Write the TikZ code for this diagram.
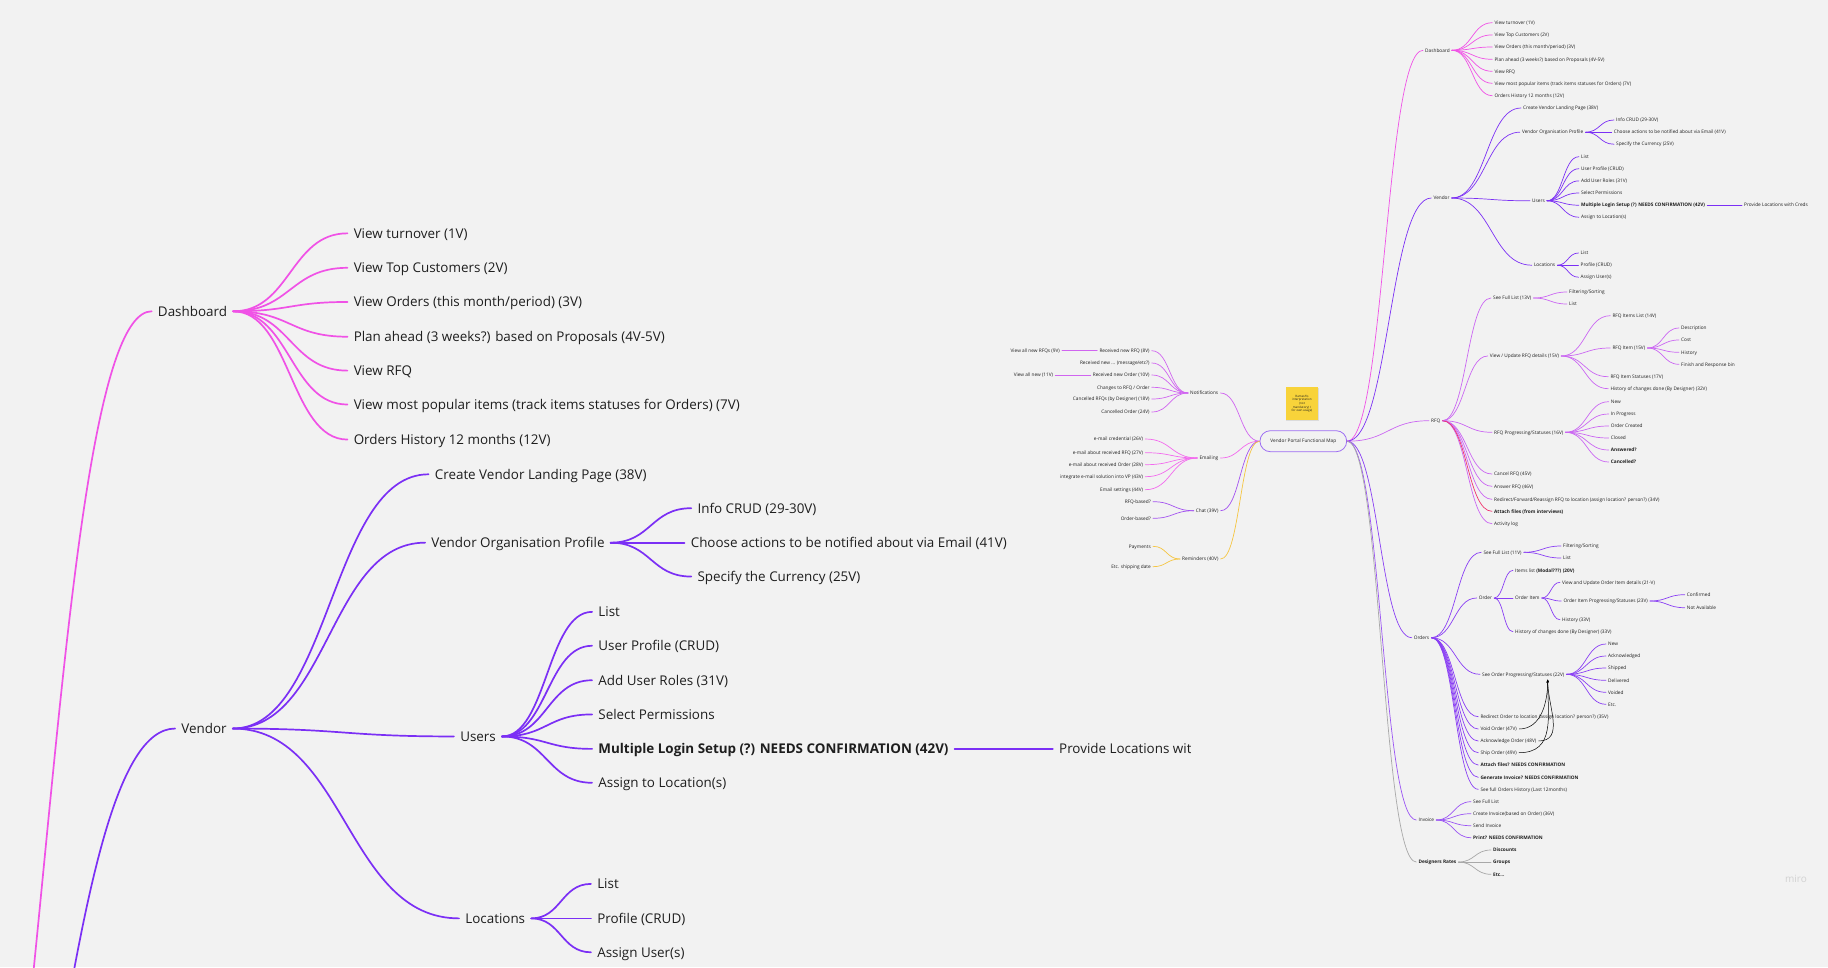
\documentclass[tikz,border=0pt]{standalone}
\usepackage{fontspec}
\setmainfont{Open Sans}
\usetikzlibrary{calc,arrows.meta,shadows}
\definecolor{bg}{HTML}{F2F2F2}
\definecolor{cDash}{HTML}{F052E6}
\definecolor{cVend}{HTML}{7B2FF5}
\definecolor{cRFQ}{HTML}{CB67F2}
\definecolor{cRed}{HTML}{F0366E}
\definecolor{cOrd}{HTML}{8A3FF4}
\definecolor{cInv}{HTML}{9B55F4}
\definecolor{cGray}{HTML}{A8A8A8}
\definecolor{cNot}{HTML}{D065F0}
\definecolor{cMail}{HTML}{F26AEE}
\definecolor{cChat}{HTML}{A352F0}
\definecolor{cRem}{HTML}{F5C542}
\definecolor{cCen}{HTML}{9C6CF2}
\definecolor{txt}{HTML}{1E1E1E}
\definecolor{note}{HTML}{F8D33A}
\definecolor{wm}{HTML}{D2D2D2}
\tikzset{
  mm/.style={to path={let \p1=(\tikztostart), \p2=(\tikztotarget), \p3=($(\p1)!.5!(\p2)$) in .. controls (\x3,\y1) and (\x3,\y2) .. (\tikztotarget)}},
  conn/.style={line width=0.7pt, line cap=round},
  txtnode/.style={font=\fontsize{4.75}{5.5}\selectfont, text=txt, inner xsep=2pt, inner ysep=0.6pt, text height=3.4pt, text depth=0pt},
  nr/.style={txtnode, anchor=west},
  nl/.style={txtnode, anchor=east},
  blk/.style={draw=black, line width=0.5pt, -{Stealth[length=3pt,width=2.4pt]}},
  pill/.style={minimum width=86.7pt, minimum height=21pt, anchor=center},
}
\newcommand\NR[4]{\node[nr] (#1) at ({#2-2},#3) {#4};}
\newcommand\NL[4]{\node[nl] (#1) at ({#2+2},#3) {#4};}
\newcommand\ER[3]{\draw[conn,#1] (#2.east) to[mm] (#3.west);}
\newcommand\EL[3]{\draw[conn,#1] (#2.west) to[mm] (#3.east);}
% centre node with text and sticky note
\newcommand\MapCenter[1]{%
\node[draw=cCen, line width=0.8pt, rounded corners=10.4pt, txtnode, pill] (#1C) at (1303.3,441.2) {Vendor Portal Functional Map};
\node[fill=note, minimum width=32.6pt, minimum height=32.7pt, inner sep=0pt, align=center, font=\fontsize{3}{3.7}\selectfont, text=txt, drop shadow={opacity=0.2,shadow xshift=0.4pt,shadow yshift=-0.8pt}] (#1note) at (1302,403.7) {Ramesh's\\interpretation\\(not\\mandatory) /\\for own usage)};
}
% invisible centre (only its anchors are used, it lies outside the view)
\newcommand\MapGhost[1]{\node[pill, inner sep=0pt] (#1C) at (1303.3,441.2) {};}
\newcommand\MapDash[1]{%
\NR{#1dash}{1425}{50.3}{Dashboard}
\NR{#1d1}{1494.3}{22.7}{View turnover (1V)}
\NR{#1d2}{1494.3}{34.9}{View Top Customers (2V)}
\NR{#1d3}{1494.3}{47}{View Orders (this month/period) (3V)}
\NR{#1d4}{1494.3}{59.3}{Plan ahead (3 weeks?) based on Proposals (4V-5V)}
\NR{#1d5}{1494.3}{71.3}{View RFQ}
\NR{#1d6}{1494.3}{83.3}{View most popular items (track items statuses for Orders) (7V)}
\NR{#1d7}{1494.3}{95.7}{Orders History 12 months (12V)}
\ER{cDash}{#1C}{#1dash}
\foreach \k in {1,...,7}{\ER{cDash}{#1dash}{#1d\k}}
}
\newcommand\MapVend[1]{%
\NR{#1ven}{1433.3}{198}{Vendor}
\NR{#1v1}{1523}{108}{Create Vendor Landing Page (38V)}
\NR{#1v2}{1521.8}{132.2}{Vendor Organisation Profile}
\NR{#1vp1}{1616}{120}{Info CRUD (29-30V)}
\NR{#1vp2}{1613.6}{132.2}{Choose actions to be notified about via Email (41V)}
\NR{#1vp3}{1616}{144.2}{Specify the Currency (25V)}
\NR{#1v3}{1532}{200.8}{Users}
\NR{#1u1}{1580.9}{156.7}{List}
\NR{#1u2}{1580.9}{168.7}{User Profile (CRUD)}
\NR{#1u3}{1580.9}{180.9}{Add User Roles (31V)}
\NR{#1u4}{1580.9}{193}{Select Permissions}
\NR{#1u5}{1580.9}{205.2}{\textbf{Multiple Login Setup (?) NEEDS CONFIRMATION (42V)}}
\NR{#1u6}{1580.9}{217.2}{Assign to Location(s)}
\NR{#1u5a}{1744}{205.2}{Provide Locations with Creds}
\NR{#1v4}{1533.8}{265.2}{Locations}
\NR{#1l1}{1580.5}{253}{List}
\NR{#1l2}{1580.5}{265.2}{Profile (CRUD)}
\NR{#1l3}{1580.5}{277.2}{Assign User(s)}
\ER{cVend}{#1C}{#1ven}
\foreach \k in {1,...,4}{\ER{cVend}{#1ven}{#1v\k}}
\foreach \k in {1,2,3}{\ER{cVend}{#1v2}{#1vp\k}}
\foreach \k in {1,...,6}{\ER{cVend}{#1v3}{#1u\k}}
\ER{cVend}{#1u5}{#1u5a}
\foreach \k in {1,2,3}{\ER{cVend}{#1v4}{#1l\k}}
}
\newcommand\MapRest[1]{%
% RFQ
\NR{#1rfq}{1431}{420.7}{RFQ}
\NR{#1r1}{1493}{298}{See Full List (13V)}
\NR{#1r1a}{1569}{292}{Filtering/Sorting}
\NR{#1r1b}{1569}{304}{List}
\NR{#1r2}{1489.7}{356}{View / Update RFQ details (15V)}
\NR{#1r2a}{1612.3}{315.7}{RFQ Items List (14V)}
\NR{#1r2b}{1612.3}{348}{RFQ Item (15V)}
\NR{#1r2b1}{1681}{328}{Description}
\NR{#1r2b2}{1681}{340}{Cost}
\NR{#1r2b3}{1681}{352.3}{History}
\NR{#1r2b4}{1681}{364.3}{Finish and Response bin}
\NR{#1r2c}{1610.3}{376.7}{RFQ Item Statuses (17V)}
\NR{#1r2d}{1610.3}{388.7}{History of changes done (By Designer) (32V)}
\NR{#1r3}{1494}{432.3}{RFQ Progressing/Statuses (16V)}
\NR{#1r3a}{1610.7}{401.7}{New}
\NR{#1r3b}{1610.7}{414}{In Progress}
\NR{#1r3c}{1610.7}{426}{Order Created}
\NR{#1r3d}{1610.7}{438}{Closed}
\NR{#1r3e}{1610.7}{450}{\textbf{Answered?}}
\NR{#1r3f}{1610.7}{462}{\textbf{Cancelled?}}
\NR{#1r4}{1494}{474}{Cancel RFQ (45V)}
\NR{#1r5}{1494}{486.3}{Answer RFQ (46V)}
\NR{#1r6}{1494}{499.3}{Redirect/Forward/Reassign RFQ to location (assign location? person?) (34V)}
\NR{#1r7}{1494}{511.3}{\textbf{Attach files (from interviews)}}
\NR{#1r8}{1494}{523.7}{Activity log}
\ER{cRFQ}{#1C}{#1rfq}
\foreach \k in {1,...,6,8}{\ER{cRFQ}{#1rfq}{#1r\k}}
\ER{cRed}{#1rfq}{#1r7}
\ER{cRFQ}{#1r1}{#1r1a}
\ER{cRFQ}{#1r1}{#1r1b}
\foreach \k in {a,b,c,d}{\ER{cRFQ}{#1r2}{#1r2\k}}
\foreach \k in {1,...,4}{\ER{cRFQ}{#1r2b}{#1r2b\k}}
\foreach \k in {a,b,c,d,e,f}{\ER{cRFQ}{#1r3}{#1r3\k}}
% Orders
\NR{#1ord}{1413.7}{637.7}{Orders}
\NR{#1o1}{1483.3}{552.3}{See Full List (11V)}
\NR{#1o1a}{1563}{546}{Filtering/Sorting}
\NR{#1o1b}{1563}{558}{List}
\NR{#1o2}{1478.7}{598}{Order}
\NR{#1o2a}{1515}{570.3}{Items list \textbf{(Modal???) (20V)}}
\NR{#1o2b}{1515}{598}{Order Item}
\NR{#1o2b1}{1562}{582.3}{View and Update Order Item details (21-V)}
\NR{#1o2b2}{1563.3}{601}{Order Item Progressing/Statuses (23V)}
\NR{#1o2b2a}{1686.7}{594.7}{Confirmed}
\NR{#1o2b2b}{1686.7}{607.7}{Not Available}
\NR{#1o2b3}{1562}{619.7}{History (33V)}
\NR{#1o2c}{1515}{631.7}{History of changes done (By Designer) (33V)}
\NR{#1o3}{1482}{674.3}{See Order Progressing/Statuses (22V)}
\NR{#1o3a}{1608}{644}{New}
\NR{#1o3b}{1608}{656}{Acknowledged}
\NR{#1o3c}{1608}{668}{Shipped}
\NR{#1o3d}{1608}{680.3}{Delivered}
\NR{#1o3e}{1608}{692.3}{Voided}
\NR{#1o3f}{1608}{704.3}{Etc.}
\NR{#1o4}{1480.3}{716.7}{Redirect Order to location (assign location? person?) (35V)}
\NR{#1o5}{1480.3}{729}{Void Order (47V)}
\NR{#1o6}{1480.3}{741}{Acknowledge Order (48V)}
\NR{#1o7}{1480.3}{752.7}{Ship Order (49V)}
\NR{#1o8}{1480.3}{765}{\textbf{Attach files? NEEDS CONFIRMATION}}
\NR{#1o9}{1480.3}{777.3}{\textbf{Generate Invoice? NEEDS CONFIRMATION}}
\NR{#1o10}{1480.3}{789.3}{See full Orders History (Last 12months)}
\coordinate (#1arr) at (1547.7,679.5);
\ER{cOrd}{#1C}{#1ord}
\foreach \k in {1,...,10}{\ER{cOrd}{#1ord}{#1o\k}}
\ER{cOrd}{#1o1}{#1o1a}
\ER{cOrd}{#1o1}{#1o1b}
\foreach \k in {a,b,c}{\ER{cOrd}{#1o2}{#1o2\k}}
\foreach \k in {1,2,3}{\ER{cOrd}{#1o2b}{#1o2b\k}}
\ER{cOrd}{#1o2b2}{#1o2b2a}
\ER{cOrd}{#1o2b2}{#1o2b2b}
\foreach \k in {a,b,c,d,e,f}{\ER{cOrd}{#1o3}{#1o3\k}}
\draw[blk] (#1o5.east) to[out=0,in=-90,looseness=1] (#1arr);
\draw[blk] (#1o6.east) to[out=0,in=-90,looseness=1.1] (#1arr);
\draw[blk] (#1o7.east) to[out=0,in=-90,looseness=1.2] (#1arr);
% Invoice
\NR{#1inv}{1418.3}{820}{Invoice}
\NR{#1i1}{1473}{801.7}{See Full List}
\NR{#1i2}{1473}{813.7}{Create Invoice(based on Order) (36V)}
\NR{#1i3}{1473}{825.7}{Send Invoice}
\NR{#1i4}{1473}{837.7}{\textbf{Print? NEEDS CONFIRMATION}}
\ER{cInv}{#1C}{#1inv}
\foreach \k in {1,...,4}{\ER{cInv}{#1inv}{#1i\k}}
% Designers Rates
\NR{#1des}{1418.3}{862}{\textbf{Designers Rates}}
\NR{#1g1}{1493}{850}{\textbf{Discounts}}
\NR{#1g2}{1493}{862}{\textbf{Groups}}
\NR{#1g3}{1493}{874.3}{\textbf{Etc...}}
\ER{cGray}{#1C}{#1des}
\foreach \k in {1,2,3}{\ER{cGray}{#1des}{#1g\k}}
% Notifications
\NR{#1not}{1190}{393}{Notifications}
\NL{#1n1}{1149.7}{350.7}{Received new RFQ (8V)}
\NL{#1n2}{1149.7}{363}{Received new ... (message/etc?)}
\NL{#1n3}{1149.7}{375}{Received new Order (10V)}
\NL{#1n4}{1149.7}{387.3}{Changes to RFQ / Order}
\NL{#1n5}{1149.7}{399}{Cancelled RFQs (by Designer) (18V)}
\NL{#1n6}{1149.7}{412}{Cancelled Order (24V)}
\NL{#1n1a}{1060}{350.7}{View all new RFQs (9V)}
\NL{#1n3a}{1053.3}{375}{View all new (11V)}
\EL{cNot}{#1C}{#1not}
\foreach \k in {1,...,6}{\EL{cNot}{#1not}{#1n\k}}
\EL{cNot}{#1n1}{#1n1a}
\EL{cNot}{#1n3}{#1n3a}
% Emailing
\NR{#1mail}{1199.3}{458}{Emailing}
\NL{#1m1}{1143.3}{439}{e-mail credential (26V)}
\NL{#1m2}{1143.3}{452.7}{e-mail about received RFQ (27V)}
\NL{#1m3}{1143.3}{464.7}{e-mail about received Order (28V)}
\NL{#1m4}{1143.3}{476.7}{integrate e-mail solution into VP (43V)}
\NL{#1m5}{1143.3}{489.7}{Email settings (44V)}
\EL{cMail}{#1C}{#1mail}
\foreach \k in {1,...,5}{\EL{cMail}{#1mail}{#1m\k}}
% Chat
\NR{#1chat}{1195.7}{510.7}{Chat (39V)}
\NL{#1c1}{1151}{501.7}{RFQ-based?}
\NL{#1c2}{1151}{518.3}{Order-based?}
\EL{cChat}{#1C}{#1chat}
\EL{cChat}{#1chat}{#1c1}
\EL{cChat}{#1chat}{#1c2}
% Reminders
\NR{#1rem}{1182}{559}{Reminders (40V)}
\NL{#1e1}{1151}{546.3}{Payments}
\NL{#1e2}{1151}{566.7}{Etc. shipping date}
\EL{cRem}{#1C}{#1rem}
\EL{cRem}{#1rem}{#1e1}
\EL{cRem}{#1rem}{#1e2}
}
\begin{document}
\begin{tikzpicture}[x=1pt,y=-1pt]
\useasboundingbox (0,0) rectangle (1828,967);
\fill[bg] (0,0) rectangle (1828,967);
% enlarged view of the top of the map (left part)
\begin{scope}
\clip (0,0) rectangle (1190,967);
\begin{scope}[shift={(-3868.2pt,-169.2pt)}, scale=2.825, transform shape, conn/.append style={line width=1.7pt}]
\MapGhost{B}
\MapDash{B}
\MapVend{B}
\end{scope}
\end{scope}
% whole map (right part)
\MapCenter{S}
\MapDash{S}
\MapVend{S}
\MapRest{S}
\node[text=wm, font=\fontsize{10}{10}\selectfont] (miro) at (1796,879) {miro};
\end{tikzpicture}
\end{document}
